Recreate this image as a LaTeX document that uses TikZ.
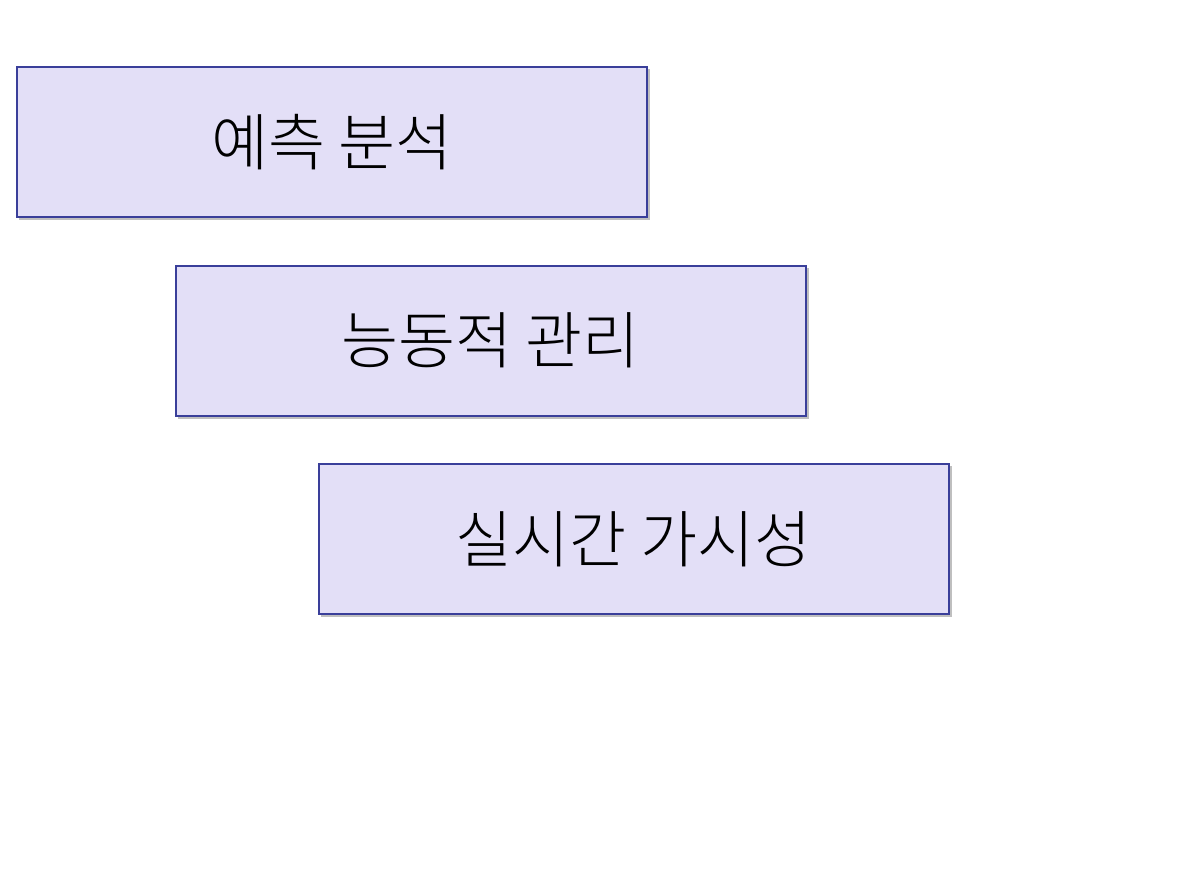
\documentclass[tikz,border=0pt]{standalone}
\usepackage{fontspec}
\newfontfamily\kr{Noto Sans CJK KR Light}
\begin{document}
\begin{tikzpicture}[x=1pt,y=-1pt,
  box/.style={draw=boxline,line width=2pt,fill=boxfill,minimum width=630pt,minimum height=150pt,inner sep=0pt,font=\kr\fontsize{62}{70}\selectfont,text=black}]
\definecolor{boxfill}{HTML}{E3DFF7}
\definecolor{boxline}{HTML}{3A3F9A}
\useasboundingbox (0,0) rectangle (1193,896);
\fill[white] (0,0) rectangle (1193,896);
\foreach \x/\y in {332/142,490.5/340.5,633.5/539}
  \fill[black!25] (\x-313,\y-73) rectangle (\x+318,\y+78);
\node[box] (a) at (332,142) {예측 분석};
\node[box] (b) at (490.5,340.5) {능동적 관리};
\node[box] (c) at (633.5,539) {실시간 가시성};
\end{tikzpicture}
\end{document}
